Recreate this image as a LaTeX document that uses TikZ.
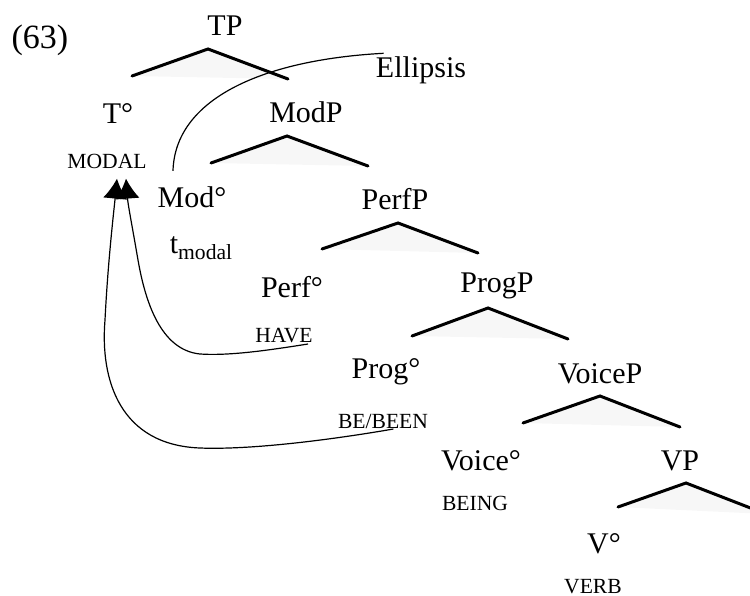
\documentclass[tikz,border=0pt]{standalone}
\usepackage{fontspec}
\setmainfont{Liberation Serif}
\usetikzlibrary{arrows.meta}

\tikzset{
  cat/.style={anchor=base, inner sep=0pt, font=\fontsize{15}{18}\selectfont},
  lex/.style={anchor=base, inner sep=0pt, font=\fontsize{10.8}{12}\selectfont},
  branch/.style={line width=1.5pt, line cap=round},
  branchshade/.style={fill=gray!6},
  move/.style={line width=0.6pt, -{Latex[length=10pt,width=12pt]}},
}

\begin{document}
\begin{tikzpicture}[x=0.5pt,y=-0.5pt]
    \useasboundingbox (0,0) rectangle (750,595);

    % Example number
    \node[inner sep=0pt, font=\fontsize{17}{20}\selectfont] (exnum) at (40,40) {(63)};

    % Labels of the tree
    \node[cat] (tp) at (225,35) {TP};
    \node[cat] (ellipsis) at (421,77) {Ellipsis};
    \node[cat] (t) at (118,123) {T°};
    \node[lex] (modal) at (107,168) {MODAL};
    \node[cat] (modp) at (306,122) {ModP};
    \node[cat] (mod) at (192,207) {Mod°};
    \node[cat] (trace) at (201,253) {t\raisebox{-3pt}{\fontsize{10.8}{12}\selectfont modal}};
    \node[cat] (perfp) at (395,209) {PerfP};
    \node[cat] (perf) at (292,297) {Perf°};
    \node[lex] (have) at (284,342) {HAVE};
    \node[cat] (progp) at (497,292) {ProgP};
    \node[cat] (prog) at (386,378) {Prog°};
    \node[lex] (bebeen) at (383,428) {BE/BEEN};
    \node[cat] (voicep) at (600,383) {VoiceP};
    \node[cat] (voice) at (481,470) {Voice°};
    \node[lex] (being) at (475,510) {BEING};
    \node[cat] (vp) at (680,470) {VP};
    \node[cat] (v) at (604,553) {V°};
    \node[lex] (verb) at (593,593) {VERB};

    % Branches (shaded underneath)
    \fill[branchshade] (208,51) -- (132,76) -- (288,79) -- cycle;
    \fill[branchshade] (287,138) -- (211,163) -- (368,166) -- cycle;
    \fill[branchshade] (398,225) -- (322,249) -- (478,253) -- cycle;
    \fill[branchshade] (488,310) -- (412,336) -- (568,339) -- cycle;
    \fill[branchshade] (600,398) -- (523,423) -- (680,427) -- cycle;
    \fill[branchshade] (686,485) -- (618,507) -- (766,514) -- cycle;

    \draw[branch] (132,76) -- (208,49) -- (288,79);
    \draw[branch] (211,163) -- (287,136) -- (368,166);
    \draw[branch] (322,249) -- (398,223) -- (478,253);
    \draw[branch] (412,336) -- (488,308) -- (568,339);
    \draw[branch] (523,423) -- (600,396) -- (680,427);
    \draw[branch] (618,507) -- (686,483) -- (766,514);

    % Ellipsis
    \draw[line width=0.6pt] ([xshift=-9.5pt,yshift=7.5pt]mod.north)
        .. controls (175,100) and (260,60) .. ([xshift=4pt,yshift=1.25pt]ellipsis.north west);

    % Head movement to T
    \draw[move] ([xshift=-2.5pt,yshift=-1pt]have.base east)
        .. controls (270,350) and (230,356) .. (200,354)
        .. controls (160,350) and (145,300) .. (138,260)
        .. controls (132,225) and (128,205) .. ([xshift=9.5pt,yshift=-5pt]modal.south);
    \draw[move] ([xshift=-17.5pt,yshift=-0.5pt]bebeen.base east)
        .. controls (330,440) and (250,450) .. (200,448)
        .. controls (120,445) and (100,380) .. (105,320)
        .. controls (108,260) and (114,210) .. ([xshift=5pt,yshift=-5pt]modal.south);
\end{tikzpicture}
\end{document}
